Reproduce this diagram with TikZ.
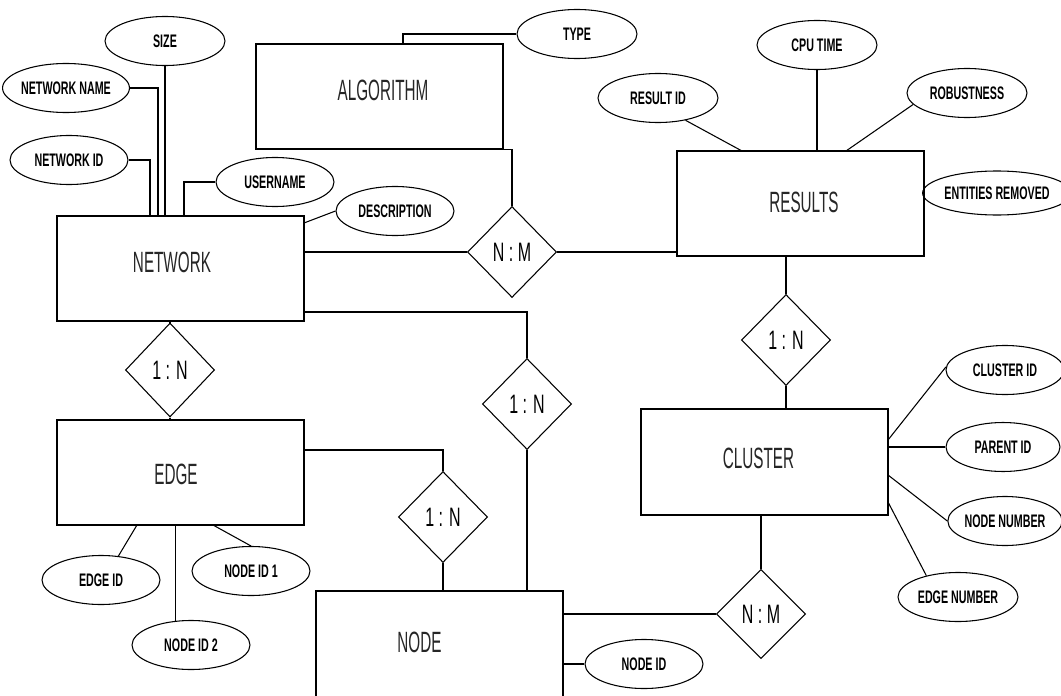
\documentclass[tikz,border=0pt]{standalone}
\usepackage{fontspec}
\setmainfont{Liberation Sans}
\newfontfamily\entfont[FakeStretch=0.52]{Liberation Sans}
\newfontfamily\attfont[FakeStretch=0.59]{Liberation Sans}
\newfontfamily\relfont[FakeStretch=0.6]{Liberation Sans}
\usetikzlibrary{shapes.geometric}
\begin{document}
\begin{tikzpicture}[x=0.75pt,y=-0.75pt, line width=0.8pt,
  ent/.style={draw, rectangle, inner sep=0pt, minimum width=185.25pt, minimum height=78.75pt},
  etext/.style={font=\entfont\fontsize{22}{24}\selectfont, inner sep=0pt, text=black!85},
  rel/.style={draw, diamond, inner sep=0pt, minimum width=66.75pt, minimum height=68.25pt, font=\relfont\fontsize{20}{22}\selectfont},
  att/.style={draw, ellipse, inner sep=0pt, minimum width=88.5pt, minimum height=36.75pt, font=\attfont\bfseries\fontsize{13.6}{15}\selectfont}]
\clip (0,0) rectangle (1061,696);
\fill[white] (0,0) rectangle (1061,696);

% entities
\node[ent, label={[etext, xshift=-6.4pt, yshift=4.9pt]center:NETWORK}] (net) at (180.5,268.5) {};
\node[ent, label={[etext, xshift=2.6pt, yshift=4.9pt]center:ALGORITHM}] (alg) at (379.5,96.5) {};
\node[ent, label={[etext, xshift=2.6pt, yshift=1.1pt]center:RESULTS}] (res) at (800.5,203.5) {};
\node[ent, label={[etext, xshift=-3.4pt, yshift=-1.1pt]center:EDGE}] (edge) at (180.5,472.5) {};
\node[ent, minimum height=79.5pt, label={[etext, xshift=-4.5pt, yshift=3pt]center:CLUSTER}] (clu) at (764.5,462) {};
\node[ent, minimum height=81pt, label={[etext, xshift=-15pt, yshift=1.9pt]center:NODE}] (nd) at (439.5,645) {};

% relationships
\node[rel, minimum height=70.5pt] (r1) at (170,370) {1 : N};
\node[rel] (r2) at (512,252) {N : M};
\node[rel] (r3) at (786,340) {1 : N};
\node[rel] (r4) at (527,404) {1 : N};
\node[rel] (r5) at (443,517) {1 : N};
\node[rel, minimum height=66.75pt] (r6) at (761,614) {N : M};

% attributes
\node[att, minimum width=90pt] (size) at (165,41) {SIZE};
\node[att] (nname) at (66,88) {NETWORK NAME};
\node[att] (nid) at (69,160) {NETWORK ID};
\node[att] (user) at (275,182) {USERNAME};
\node[att] (desc) at (395,211) {DESCRIPTION};
\node[att, minimum width=90pt] (type) at (577,34) {TYPE};
\node[att, minimum width=90pt] (rid) at (658,98) {RESULT ID};
\node[att, minimum width=90pt] (cpu) at (817,45) {CPU TIME};
\node[att, minimum width=90pt] (rob) at (967,93) {ROBUSTNESS};
\node[att, minimum width=94.5pt, minimum height=33pt] (er) at (997,193) {ENTITIES REMOVED};
\node[att] (cid) at (1005,370) {CLUSTER ID};
\node[att, minimum width=85.5pt] (pid) at (1003,447) {PARENT ID};
\node[att, minimum width=82.5pt] (nnum) at (1005,521) {NODE NUMBER};
\node[att, minimum width=90pt] (enum) at (958,597) {EDGE NUMBER};
\node[att] (ndid) at (644,664) {NODE ID};
\node[att] (eid) at (101,580) {EDGE ID};
\node[att] (nid1) at (251,571) {NODE ID 1};
\node[att] (nid2) at (191,645) {NODE ID 2};

% connector end points on entity borders
\coordinate (c-nid) at (150,216);
\coordinate (c-nname) at (158,216);
\coordinate (c-user) at (184,216);
\coordinate (c-desc) at (304,223);
\coordinate (c-type) at (403,44);
\coordinate (c-net4) at (304,312);
\coordinate (c-edge5) at (304,450);
\coordinate (c-rid) at (742,151);
\coordinate (c-rob) at (846,151);
\coordinate (c-cid) at (888,440);
\coordinate (c-nnum) at (888,475);
\coordinate (c-enum) at (888,502);
\coordinate (c-eid) at (137,525);
\coordinate (c-nid1) at (213,525);

% connectors
\draw (nid.east) -| (c-nid);
\draw (nname.east) -| (c-nname);
\draw (size.south) -- (size.south |- net.north);
\draw (user.west) -| (c-user);
\draw (desc.west) -- (c-desc);
\draw (c-type) |- (type.west);
\draw (alg.south east) -| (r2.north);
\draw (r2.west) -- (r2.west -| net.east);
\draw (r2.east) -- (r2.east -| res.west);
\draw (rid.-39) -- (c-rid);
\draw (cpu.south) -- (cpu.south |- res.north);
\draw (rob.192) -- (c-rob);
\draw (er.west) -- (er.west -| res.east);
\draw (r3.north) -- (r3.north |- res.south);
\draw (r3.south) -- (r3.south |- clu.north);
\draw (cid.177) -- (c-cid);
\draw (pid.west) -- (pid.west -| clu.east);
\draw (nnum.west) -- (c-nnum);
\draw (enum.146) -- (c-enum);
\draw (r6.north) -- (r6.north |- clu.south);
\draw (r6.west) -- (r6.west -| nd.east);
\draw (ndid.west) -- (ndid.west -| nd.east);
\draw (r1.north) -- (r1.north |- net.south);
\draw (r1.south) -- (r1.south |- edge.north);
\draw (c-net4) -| (r4.north);
\draw (r4.south) -- (r4.south |- nd.north);
\draw (c-edge5) -| (r5.north);
\draw (r5.south) -- (r5.south |- nd.north);
\draw (eid.54) -- (c-eid);
\draw (nid2.122) -- (nid2.122 |- edge.south);
\draw (nid1.north) -- (c-nid1);
\end{tikzpicture}
\end{document}
